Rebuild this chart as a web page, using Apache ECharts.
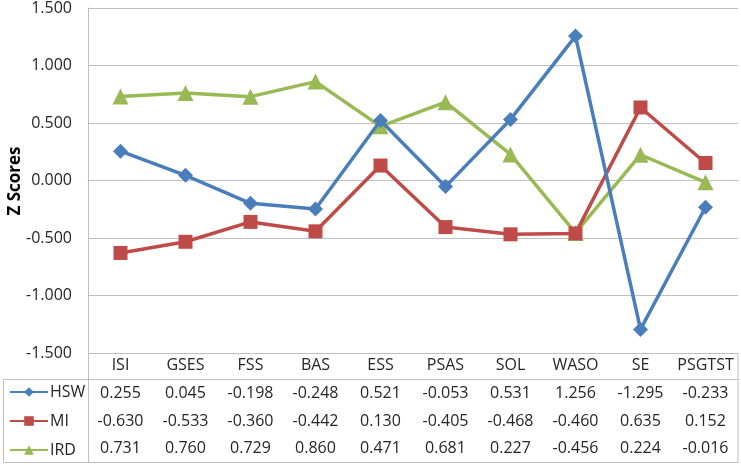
<!DOCTYPE html>
<html><head><meta charset="utf-8">
<script src="https://cdn.jsdelivr.net/npm/echarts@6/dist/echarts.min.js"></script>
<style>html,body{margin:0;padding:0;background:#fff}#c{width:741px;height:465px}</style>
</head><body><div id="c"></div>
<script>
const categories = ['ISI','GSES','FSS','BAS','ESS','PSAS','SOL','WASO','SE','PSGTST'];
const seriesNames = ['HSW','MI','IRD'];
const hsw = [0.255, 0.045, -0.198, -0.248, 0.521, -0.053, 0.531, 1.256, -1.295, -0.233];
const mi  = [-0.630, -0.533, -0.360, -0.442, 0.130, -0.405, -0.468, -0.460, 0.635, 0.152];
const ird = [0.731, 0.760, 0.729, 0.860, 0.471, 0.681, 0.227, -0.456, 0.224, -0.016];
const yMin = -1.5, yMax = 1.5, yStep = 0.5;
const yTitle = 'Z Scores';

const seriesData = [hsw, mi, ird];
const colors = ['#4A7EBB', '#BE4B48', '#98B954'];
const symbols = ['diamond', 'rect', 'triangle'];
const symbolSizes = [15, 14, 16];
const FONT = '"Open Sans", sans-serif';
const txt = '#262626';
const gridCol = '#BFBFBF';

const chart = echarts.init(document.getElementById('c'));
const rowMargins = [40, 68, 95];
const xAxes = [{
  type: 'category', data: categories, position: 'bottom', boundaryGap: true,
  axisLine: {show: true, lineStyle: {color: gridCol, width: 1}},
  axisTick: {show: false},
  axisLabel: {margin: 12, verticalAlign: 'middle', fontFamily: FONT, fontSize: 16, color: txt, interval: 0}
}];
seriesData.forEach((arr, i) => {
  xAxes.push({
    type: 'category', data: arr.map(v => v.toFixed(3)), position: 'bottom', boundaryGap: true,
    axisLine: {show: false}, axisTick: {show: false}, splitLine: {show: false},
    axisLabel: {margin: rowMargins[i], verticalAlign: 'middle', fontFamily: FONT, fontSize: 16, color: txt, interval: 0}
  });
});

chart.setOption({
  animation: false,
  grid: {left: 88, right: 3, top: 8, bottom: 112, containLabel: false, outerBoundsMode: 'none'},
  legend: {
    orient: 'vertical', left: 9, top: 384, padding: 0, height: 80, itemGap: 13, itemWidth: 38, itemHeight: 12,
    data: seriesNames,
    textStyle: {fontFamily: FONT, fontSize: 16, color: txt, padding: [0,0,0,-3]}
  },
  xAxis: xAxes,
  yAxis: {
    type: 'value', min: yMin, max: yMax, interval: yStep,
    axisLine: {show: true, lineStyle: {color: gridCol, width: 1}},
    axisTick: {show: false},
    splitLine: {lineStyle: {color: gridCol, width: 1}},
    axisLabel: {margin: 16, align: 'right', fontFamily: FONT, fontSize: 16, color: txt, formatter: v => v.toFixed(3)}
  },
  graphic: [
    {type: 'text', x: 15, y: 181, rotation: Math.PI / 2, silent: true,
     style: {text: yTitle, align: 'center', verticalAlign: 'middle', fontFamily: FONT, fontSize: 17, fontWeight: 'bold', fill: '#000'}},
    {type: 'rect', shape: {x: 3.5, y: 379.5, width: 734.5, height: 83}, style: {fill: 'none', stroke: gridCol, lineWidth: 1}, silent: true},
    {type: 'line', shape: {x1: 88.5, y1: 353, x2: 88.5, y2: 463}, style: {stroke: gridCol, lineWidth: 1}, silent: true},
    {type: 'line', shape: {x1: 738, y1: 353, x2: 738, y2: 380}, style: {stroke: gridCol, lineWidth: 1}, silent: true}
  ],
  series: seriesData.map((arr, i) => ({
    name: seriesNames[i], type: 'line', xAxisIndex: 0, data: arr,
    symbol: symbols[i], symbolSize: symbolSizes[i], showAllSymbol: true,
    lineStyle: {color: colors[i], width: 3.5},
    itemStyle: {color: colors[i]},
    z: 3 - i
  }))
});
</script></body></html>
